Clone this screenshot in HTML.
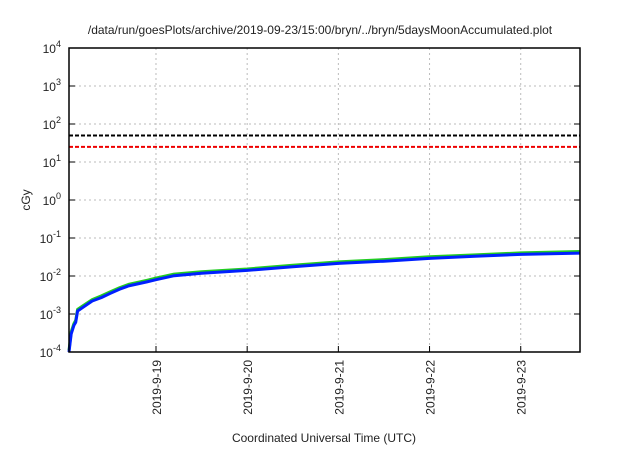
<!DOCTYPE html>
<html><head><meta charset="utf-8"><style>
body{margin:0;background:#fff;font-family:"Liberation Sans",sans-serif}
svg text{font-family:"Liberation Sans",sans-serif;fill:#222}
</style></head><body>
<svg id="c" width="640" height="448"></svg>
<script>
const days=[0.046,0.07,0.1,0.12,0.14,0.2,0.3,0.4,0.5,0.6,0.7,0.8,0.9,1.0,1.2,1.5,2.0,2.5,3.0,3.5,4.0,4.5,5.0,5.65];
const blueVals=[1e-4,3e-4,5e-4,6e-4,1.2e-3,1.5e-3,2.2e-3,2.7e-3,3.5e-3,4.5e-3,5.5e-3,6.2e-3,7e-3,8e-3,1.02e-2,1.18e-2,1.4e-2,1.75e-2,2.15e-2,2.45e-2,2.9e-2,3.3e-2,3.7e-2,4.0e-2];
const greenVals=[1.1e-4,3.4e-4,5.6e-4,6.8e-4,1.32e-3,1.65e-3,2.4e-3,3e-3,3.85e-3,4.9e-3,6e-3,6.8e-3,7.7e-3,8.8e-3,1.12e-2,1.3e-2,1.53e-2,1.92e-2,2.35e-2,2.7e-2,3.2e-2,3.6e-2,4.05e-2,4.4e-2];
const thresholds=[50,25];
const yExps=[-4,-3,-2,-1,0,1,2,3,4];
const xTickDays=[1,2,3,4,5];
const xTickLabels=["2019-9-19","2019-9-20","2019-9-21","2019-9-22","2019-9-23"];
const L=69,R=580,T=48,B=352,X0=0.046,X1=5.65;
const sx=d=>L+(d-X0)/(X1-X0)*(R-L);
const sy=v=>B-(Math.log10(v)+4)/8*(B-T);
const svg=document.getElementById('c');
const NS='http://www.w3.org/2000/svg';
function mk(tag,attrs,parent){const e=document.createElementNS(NS,tag);for(const k in attrs)e.setAttribute(k,attrs[k]);(parent||svg).appendChild(e);return e;}
let t=mk('text',{x:320,y:34,'text-anchor':'middle','font-size':12});
t.textContent='/data/run/goesPlots/archive/2019-09-23/15:00/bryn/../bryn/5daysMoonAccumulated.plot';


yExps.forEach(e=>{const y=sy(Math.pow(10,e));
 if(e>-4&&e<4){let g=mk('line',{x1:L,x2:R,y1:y,y2:y,stroke:'#bbb','stroke-dasharray':'2,3','stroke-width':1});
 
 }
 let tk=mk('line',{x1:L,x2:L+6,y1:y,y2:y,stroke:'#000'});
 
 
 let tk2=mk('line',{x1:R-6,x2:R,y1:y,y2:y,stroke:'#000'});
 
 
 let tx=mk('text',{x:L-8,y:y+5,'text-anchor':'end','font-size':12});
 tx.innerHTML='10<tspan dy="-6" font-size="9">'+e+'</tspan>';
 
 
});
xTickDays.forEach((d,i)=>{const x=sx(d);
 let g=mk('line',{x1:x,x2:x,y1:T,y2:B,stroke:'#bbb','stroke-dasharray':'2,3'});
 
 
 let tk=mk('line',{x1:x,x2:x,y1:B-6,y2:B,stroke:'#000'});
 
 
 let tx=mk('text',{x:0,y:0,'text-anchor':'end','font-size':12,transform:`translate(${x+5},${B+8}) rotate(-90)`});
 tx.textContent=xTickLabels[i];
 
 
});
const tcol=['#000','#e00'];
thresholds.forEach((v,i)=>{let l=mk('line',{x1:L,x2:R,y1:sy(v),y2:sy(v),stroke:tcol[i],'stroke-width':2,'stroke-dasharray':'4,2'});
 
 });
function path(vals,col,w,name){let d=days.map((x,i)=>(i?'L':'M')+sx(x).toFixed(1)+','+sy(vals[i]).toFixed(1)).join('');
 let p=mk('path',{d:d,fill:'none',stroke:col,'stroke-width':w,'stroke-linejoin':'round'});
 
 }
path(greenVals,'#2c2','3','series-green');
path(blueVals,'#0020ff','3','series-blue');
let fr=mk('rect',{x:L,y:T,width:R-L,height:B-T,fill:'none',stroke:'#000','stroke-width':1.5});


let yl=mk('text',{x:0,y:0,'text-anchor':'middle','font-size':12,transform:'translate(30,200) rotate(-90)'});
yl.textContent='cGy';


let xl=mk('text',{x:324,y:442,'text-anchor':'middle','font-size':12});
xl.textContent='Coordinated Universal Time (UTC)';


</script>
</body></html>
